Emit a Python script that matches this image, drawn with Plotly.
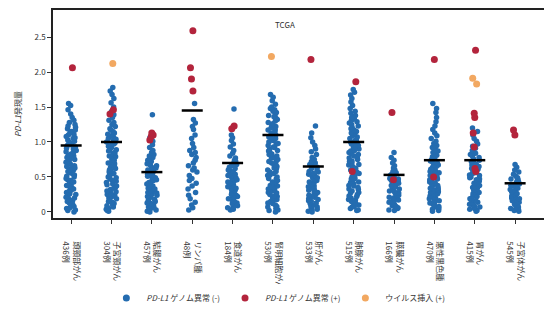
import plotly.graph_objects as go

# ---- data ----
cancer_names = ["頭頸部がん", "子宮頸がん", "結腸がん", "リンパ腫", "食道がん", "腎明細胞がん",
                "肝がん", "肺腺がん", "膵臓がん", "悪性黒色腫", "胃がん", "子宮体がん"]
case_counts = ["436例", "304例", "457例", "48例", "184例", "530例",
               "533例", "515例", "166例", "470例", "415例", "545例"]

blue_1 = [0.00,0.02,0.03,0.05,0.06,0.08,0.10,0.11,0.13,0.15,0.16,0.18,0.20,0.21,0.23,0.25,0.26,0.28,0.30,0.31,0.33,0.35,0.36,0.38,0.40,0.41,0.43,0.45,0.46,0.48,0.50,0.51,0.53,0.55,0.56,0.58,0.60,0.61,0.63,0.65,0.66,0.68,0.70,0.71,0.73,0.75,0.76,0.78,0.80,0.81,0.83,0.85,0.86,0.88,0.90,0.91,0.93,0.95,0.96,0.98,1.00,1.01,1.03,1.05,1.06,1.08,1.10,1.11,1.13,1.15,1.17,1.19,1.21,1.23,1.25,1.28,1.31,1.35,1.40,1.46,1.52,1.55]
blue_2 = [0.01,0.02,0.04,0.05,0.07,0.09,0.10,0.12,0.14,0.15,0.17,0.19,0.20,0.22,0.24,0.25,0.27,0.29,0.30,0.32,0.34,0.35,0.37,0.39,0.40,0.42,0.44,0.45,0.47,0.49,0.50,0.52,0.54,0.55,0.57,0.59,0.60,0.62,0.64,0.65,0.67,0.69,0.70,0.72,0.74,0.75,0.77,0.79,0.80,0.82,0.84,0.85,0.87,0.89,0.90,0.92,0.94,0.95,0.97,0.99,1.00,1.02,1.04,1.05,1.07,1.09,1.11,1.13,1.15,1.17,1.19,1.22,1.25,1.28,1.31,1.35,1.39,1.44,1.50,1.56,1.62,1.68,1.73,1.78]
blue_3 = [0.00,0.01,0.03,0.04,0.06,0.07,0.09,0.10,0.12,0.13,0.15,0.16,0.18,0.19,0.21,0.22,0.24,0.25,0.27,0.28,0.30,0.31,0.33,0.34,0.36,0.37,0.39,0.40,0.42,0.43,0.45,0.46,0.48,0.49,0.51,0.52,0.54,0.55,0.57,0.58,0.60,0.61,0.63,0.64,0.66,0.67,0.69,0.70,0.72,0.74,0.76,0.78,0.80,0.82,0.85,0.88,0.92,0.96,1.01,1.06,1.39]
blue_4 = [0.03,0.06,0.10,0.14,0.19,0.24,0.28,0.33,0.37,0.41,0.45,0.48,0.52,0.57,0.60,0.63,0.66,0.70,0.74,0.78,0.82,0.85,0.88,0.92,0.98,1.05,1.10,1.18,1.22,1.27,1.32,1.55]
blue_5 = [0.03,0.04,0.06,0.07,0.09,0.10,0.12,0.13,0.15,0.16,0.18,0.19,0.21,0.22,0.24,0.25,0.27,0.28,0.30,0.31,0.33,0.34,0.36,0.37,0.39,0.40,0.42,0.43,0.45,0.46,0.48,0.49,0.51,0.52,0.54,0.55,0.57,0.58,0.60,0.62,0.64,0.66,0.68,0.70,0.72,0.74,0.77,0.80,0.84,0.88,0.93,0.97,1.02,1.06,1.10,1.47]
blue_6 = [0.00,0.02,0.03,0.05,0.07,0.08,0.10,0.12,0.13,0.15,0.17,0.18,0.20,0.22,0.23,0.25,0.27,0.28,0.30,0.32,0.33,0.35,0.37,0.38,0.40,0.42,0.43,0.45,0.47,0.48,0.50,0.52,0.53,0.55,0.57,0.58,0.60,0.62,0.63,0.65,0.67,0.68,0.70,0.72,0.73,0.75,0.77,0.78,0.80,0.82,0.83,0.85,0.87,0.88,0.90,0.92,0.93,0.95,0.97,0.98,1.00,1.02,1.03,1.05,1.07,1.08,1.10,1.12,1.13,1.15,1.17,1.18,1.20,1.22,1.24,1.26,1.28,1.30,1.32,1.34,1.36,1.38,1.40,1.42,1.44,1.46,1.48,1.50,1.54,1.59,1.64,1.68]
blue_7 = [0.00,0.01,0.03,0.04,0.06,0.07,0.09,0.10,0.12,0.13,0.15,0.16,0.18,0.19,0.21,0.22,0.24,0.25,0.27,0.28,0.30,0.31,0.33,0.34,0.36,0.37,0.39,0.40,0.42,0.43,0.45,0.46,0.48,0.49,0.51,0.52,0.54,0.55,0.57,0.58,0.60,0.62,0.64,0.66,0.68,0.70,0.72,0.75,0.78,0.82,0.86,0.90,0.95,1.00,1.06,1.13,1.23]
blue_8 = [0.02,0.03,0.05,0.07,0.08,0.10,0.12,0.13,0.15,0.17,0.18,0.20,0.22,0.23,0.25,0.27,0.28,0.30,0.32,0.33,0.35,0.37,0.38,0.40,0.42,0.43,0.45,0.47,0.48,0.50,0.52,0.53,0.55,0.57,0.58,0.60,0.62,0.63,0.65,0.67,0.68,0.70,0.72,0.73,0.75,0.77,0.78,0.80,0.82,0.83,0.85,0.87,0.88,0.90,0.92,0.93,0.95,0.97,0.98,1.00,1.02,1.03,1.05,1.07,1.09,1.11,1.13,1.15,1.17,1.19,1.21,1.23,1.25,1.27,1.29,1.31,1.33,1.35,1.38,1.41,1.44,1.48,1.52,1.57,1.62,1.67,1.71,1.75]
blue_9 = [0.02,0.03,0.05,0.06,0.08,0.09,0.11,0.12,0.14,0.15,0.17,0.18,0.20,0.21,0.23,0.24,0.26,0.27,0.29,0.30,0.32,0.33,0.35,0.36,0.38,0.39,0.41,0.42,0.44,0.45,0.47,0.48,0.50,0.52,0.54,0.56,0.58,0.60,0.63,0.66,0.70,0.74,0.78,0.85]
blue_10 = [0.01,0.02,0.04,0.05,0.07,0.08,0.10,0.11,0.13,0.14,0.16,0.17,0.19,0.20,0.22,0.23,0.25,0.26,0.28,0.29,0.31,0.32,0.34,0.35,0.37,0.38,0.40,0.41,0.43,0.44,0.46,0.47,0.49,0.50,0.52,0.53,0.55,0.56,0.58,0.59,0.61,0.62,0.64,0.65,0.67,0.68,0.70,0.71,0.73,0.75,0.77,0.79,0.81,0.83,0.85,0.87,0.89,0.92,0.95,0.98,1.01,1.05,1.09,1.13,1.18,1.23,1.29,1.35,1.42,1.48,1.55]
blue_11 = [0.01,0.02,0.04,0.05,0.07,0.08,0.10,0.11,0.13,0.14,0.16,0.17,0.19,0.20,0.22,0.23,0.25,0.26,0.28,0.29,0.31,0.32,0.34,0.35,0.37,0.38,0.40,0.41,0.43,0.44,0.46,0.47,0.49,0.50,0.52,0.53,0.55,0.56,0.58,0.59,0.61,0.62,0.64,0.65,0.67,0.68,0.70,0.72,0.74,0.76,0.78,0.80,0.82,0.84,0.86,0.88,0.91,0.94,0.97,1.01,1.05,1.10,1.15,1.20]
blue_12 = [0.01,0.02,0.04,0.05,0.07,0.08,0.10,0.11,0.13,0.14,0.16,0.17,0.19,0.20,0.22,0.23,0.25,0.26,0.28,0.29,0.31,0.32,0.34,0.35,0.37,0.38,0.40,0.41,0.43,0.44,0.46,0.47,0.49,0.51,0.54,0.57,0.60,0.64,0.68]

red_values = [[2.06], [1.46, 1.40], [1.13, 1.10, 1.08, 1.03], [2.59, 2.06, 1.90, 1.73],
              [1.23, 1.19], [], [2.18], [1.86, 0.58], [1.42, 0.46], [2.18, 0.50],
              [2.31, 1.41, 1.35, 1.13, 0.93, 0.62, 0.58], [1.17, 1.10]]
orange_values = [[], [2.12], [], [], [], [2.22], [], [], [], [], [1.91, 1.83], []]
median_values = [0.95, 1.00, 0.57, 1.45, 0.70, 1.10, 0.65, 1.00, 0.53, 0.74, 0.74, 0.41]

y_tick_vals = [0, 0.5, 1.0, 1.5, 2.0, 2.5]
y_tick_text = ["0", "0.5", "1.0", "1.5", "2.0", "2.5"]

legend_labels = ["<i>PD-L1</i> ゲノム異常 (-)", "<i>PD-L1</i> ゲノム異常 (+)", "ウイルス挿入 (+)"]

# ---- build ----
categories = [f"{n}<br>{c}" for n, c in zip(cancer_names, case_counts)]
blue_values = [blue_1, blue_2, blue_3, blue_4, blue_5, blue_6,
               blue_7, blue_8, blue_9, blue_10, blue_11, blue_12]

BLUE = "#246cb0"
RED = "#b3243c"
ORANGE = "#f2a861"
FONT = "Noto Sans CJK JP"


def flat(groups):
    xs, ys = [], []
    for cat, vals in zip(categories, groups):
        xs += [cat] * len(vals)
        ys += list(vals)
    return xs, ys


def strip(groups, color, size, width, jitter):
    xs, ys = flat(groups)
    return go.Box(x=xs, y=ys, boxpoints="all", jitter=jitter, pointpos=0, width=width,
                  fillcolor="rgba(0,0,0,0)", line=dict(color="rgba(0,0,0,0)", width=0),
                  marker=dict(color=color, size=size, line=dict(width=0)),
                  hoverinfo="skip", showlegend=False)


fig = go.Figure()
fig.add_trace(strip(blue_values, BLUE, 5.5, 0.27, 1.0))
fig.add_trace(strip(red_values, RED, 7, 0.2, 0.6))
fig.add_trace(strip(orange_values, ORANGE, 7, 0.2, 0.6))
fig.add_trace(go.Scatter(x=categories, y=median_values, mode="markers",
                         marker=dict(symbol="line-ew", size=15,
                                     line=dict(color="black", width=2.5)),
                         hoverinfo="skip", showlegend=False))

for label, color in zip(legend_labels, [BLUE, RED, ORANGE]):
    fig.add_trace(go.Scatter(x=[None], y=[None], mode="markers", name=label,
                             marker=dict(color=color, size=7)))

# the page body adds an 8px offset, so the figure is sized to fill the rest
fig.update_layout(
    width=544, height=301,
    margin=dict(l=45, r=5, t=2, b=91, autoexpand=False),
    paper_bgcolor="white", plot_bgcolor="white",
    boxmode="overlay",
    font=dict(family=FONT, size=8, color="#333333"),
    showlegend=True,
    legend=dict(orientation="h", x=0.108, xanchor="left", y=-0.385, yanchor="middle",
                font=dict(size=8), itemwidth=30, tracegroupgap=0),
    annotations=[dict(text="TCGA", x=0.47, y=0.965, xref="paper", yref="paper",
                      showarrow=False, font=dict(size=8, color="#333333"))],
)
fig.update_xaxes(type="category", categoryorder="array", categoryarray=categories,
                 range=[-0.45, 11.79], tickangle=90, ticks="outside", ticklen=4,
                 tickcolor="#333", showline=True, linecolor="#222", linewidth=1.5,
                 mirror=True, showgrid=False, zeroline=False, tickfont=dict(size=8),
                 ticklabelstandoff=16, automargin=False)
fig.update_yaxes(range=[-0.086, 2.886], tickvals=y_tick_vals, ticktext=y_tick_text,
                 ticks="outside", ticklen=4, tickcolor="#333", showline=True,
                 linecolor="#222", linewidth=1.5, mirror=True, showgrid=False,
                 zeroline=False, tickfont=dict(size=8), automargin=False,
                 title=dict(text="<i>PD-L1</i>発現量", font=dict(size=8), standoff=12))

fig.write_html("out.html")
